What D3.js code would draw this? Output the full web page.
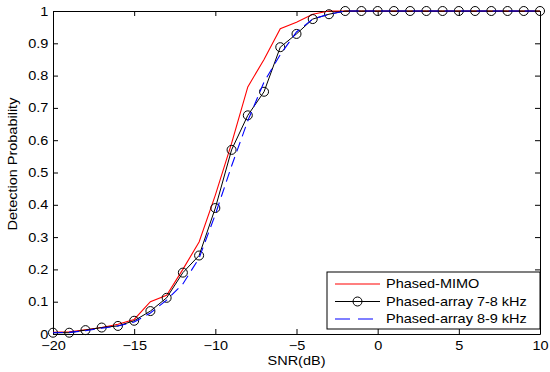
<!DOCTYPE html>
<html>
<head>
<meta charset="utf-8">
<script src="https://cdn.jsdelivr.net/npm/d3@7"></script>
<style>
  html, body { margin: 0; padding: 0; background: #fff; }
  svg { display: block; }
  text { font-family: "Liberation Sans", Arial, sans-serif; }
</style>
</head>
<body>
<svg id="chart" width="550" height="372"></svg>
<script>
const snr = d3.range(-20, 11, 1);
const phasedMimo = [0.005, 0.007, 0.013, 0.02, 0.03, 0.045, 0.1, 0.12, 0.2, 0.285, 0.43, 0.59, 0.765, 0.85, 0.945, 0.965, 0.99, 1,
  1, 1, 1, 1, 1, 1, 1, 1, 1, 1, 1, 1, 1];
const phasedArray78 = [0.004, 0.004, 0.012, 0.02, 0.025, 0.041, 0.071, 0.112, 0.19, 0.243, 0.39, 0.57, 0.677, 0.75, 0.888, 0.929, 0.975, 0.99,
  1, 1, 1, 1, 1, 1, 1, 1, 1, 1, 1, 1, 1];
const phasedArray89 = [0.004, 0.005, 0.01, 0.018, 0.025, 0.037, 0.065, 0.105, 0.155, 0.235, 0.37, 0.52, 0.66, 0.78, 0.865, 0.935, 0.975, 0.99,
  1, 1, 1, 1, 1, 1, 1, 1, 1, 1, 1, 1, 1];
const xTicks = [-20, -15, -10, -5, 0, 5, 10];
const yTicks = [0, 0.1, 0.2, 0.3, 0.4, 0.5, 0.6, 0.7, 0.8, 0.9, 1];
const seriesNames = ["Phased-MIMO", "Phased-array 7-8 kHz", "Phased-array 8-9 kHz"];

const FS = "12.5px";
const SX = 1.16;
const svg = d3.select("#chart");
const L = 53, R = 540, T = 11, B = 334;
const x = d3.scaleLinear().domain([-20, 10]).range([L, R]);
const y = d3.scaleLinear().domain([0, 1]).range([B, T]);

const tickFmt = d => String(+d.toFixed(1));

// axes
const gx = svg.append("g").attr("transform", `translate(0,${B})`)
  .call(d3.axisBottom(x).tickValues(xTicks).tickSizeInner(-5).tickSizeOuter(0).tickPadding(7).tickFormat(d3.format("d")));
const gxTop = svg.append("g").attr("transform", `translate(0,${T})`)
  .call(d3.axisTop(x).tickValues(xTicks).tickSizeInner(-5).tickSizeOuter(0).tickFormat(""));
const gy = svg.append("g").attr("transform", `translate(${L},0)`)
  .call(d3.axisLeft(y).tickValues(yTicks).tickSizeInner(-5).tickSizeOuter(0).tickPadding(4).tickFormat(tickFmt));
const gyR = svg.append("g").attr("transform", `translate(${R},0)`)
  .call(d3.axisRight(y).tickValues(yTicks).tickSizeInner(-5).tickSizeOuter(0).tickFormat(""));

[gx, gxTop, gy, gyR].forEach(g => {
  g.select(".domain").attr("stroke", "#000").attr("stroke-width", 1);
  g.selectAll(".tick line").attr("stroke", "#000");
  g.selectAll("text").attr("fill", "#000").style("font-size", FS)
    .style("font-family", '"Liberation Sans", Arial, sans-serif')
    .attr("transform", `scale(${SX},1)`);
});

// axis labels
svg.append("text").attr("transform", `translate(${(L + R) / 2},364.5) scale(${SX},1)`).attr("text-anchor", "middle")
  .style("font-size", FS).attr("fill", "#000").text("SNR(dB)");
svg.append("text").attr("transform", `translate(17,164) rotate(-90) scale(${SX},1)`).attr("text-anchor", "middle")
  .style("font-size", FS).attr("fill", "#000").text("Detection Probability");

const line = d3.line().x((d, i) => x(snr[i])).y(d => y(d));
const plot = svg.append("g");

plot.append("path").datum(phasedMimo).attr("d", line)
  .attr("fill", "none").attr("stroke", "#ff0000").attr("stroke-width", 1.1);
plot.append("path").datum(phasedArray78).attr("d", line)
  .attr("fill", "none").attr("stroke", "#000").attr("stroke-width", 1);
plot.selectAll("circle.m").data(phasedArray78).join("circle").attr("class", "m")
  .attr("cx", (d, i) => x(snr[i])).attr("cy", d => y(d)).attr("r", 4.5)
  .attr("fill", "none").attr("stroke", "#000").attr("stroke-width", 1);
plot.append("path").datum(phasedArray89).attr("d", line)
  .attr("fill", "none").attr("stroke", "#0000ff").attr("stroke-width", 1.1).attr("stroke-dasharray", "10,6");

// legend
const lg = svg.append("g");
const lx0 = 327, ly0 = 272, lw = 213, lh = 57;
lg.append("rect").attr("x", lx0).attr("y", ly0).attr("width", lw).attr("height", lh)
  .attr("fill", "#fff").attr("stroke", "#000").attr("stroke-width", 1);
const styles = [
  { color: "#ff0000", dash: null, marker: false },
  { color: "#000", dash: null, marker: true },
  { color: "#0000ff", dash: "15,8", marker: false }
];
seriesNames.forEach((name, i) => {
  const yy = ly0 + 12 + i * 17.5;
  lg.append("line").attr("x1", lx0 + 8).attr("x2", lx0 + 53).attr("y1", yy).attr("y2", yy)
    .attr("stroke", styles[i].color).attr("stroke-width", 1.1)
    .attr("stroke-dasharray", styles[i].dash);
  if (styles[i].marker) {
    lg.append("circle").attr("cx", lx0 + 30.5).attr("cy", yy).attr("r", 4.5)
      .attr("fill", "none").attr("stroke", "#000");
  }
  lg.append("text").attr("transform", `translate(${lx0 + 59},${yy}) scale(${SX},1)`).attr("dy", "0.35em")
    .style("font-size", FS).attr("fill", "#000").text(name);
});
</script>
</body>
</html>
